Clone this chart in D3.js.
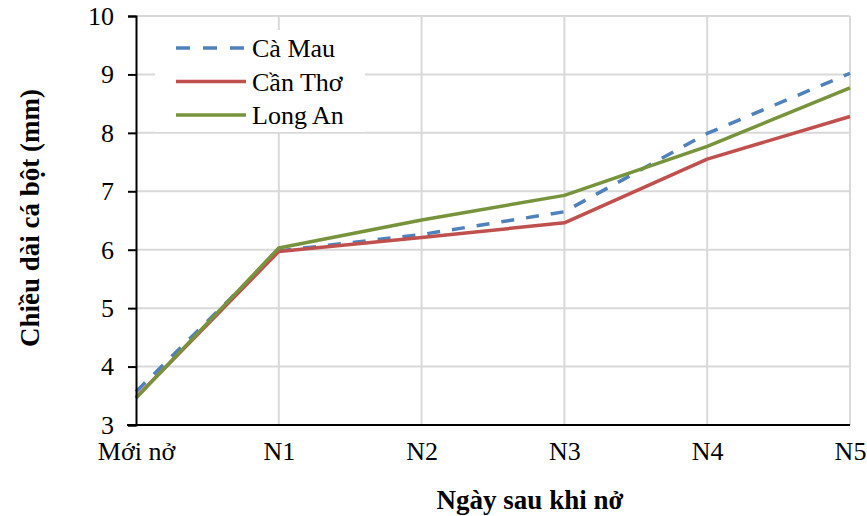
<!DOCTYPE html>
<html>
<head>
<meta charset="utf-8">
<script src="https://cdn.jsdelivr.net/npm/d3@7"></script>
<style>
  html, body { margin: 0; padding: 0; background: #fff; }
  svg { display: block; }
  text { font-family: "Liberation Serif", "Times New Roman", serif; fill: #000; }
</style>
</head>
<body>
<svg id="chart" width="867" height="516"></svg>
<script>
const categories = ["Mới nở", "N1", "N2", "N3", "N4", "N5"];
const caMau   = [3.57, 5.98, 6.26, 6.65, 7.99, 9.02];
const canTho  = [3.47, 5.97, 6.21, 6.46, 7.55, 8.28];
const longAn  = [3.46, 6.03, 6.51, 6.93, 7.77, 8.77];
const seriesNames = ["Cà Mau", "Cần Thơ", "Long An"];
const yTicks = [3, 4, 5, 6, 7, 8, 9, 10];
const xTitle = "Ngày sau khi nở";
const yTitle = "Chiều dài cá bột (mm)";

const series = [
  { name: seriesNames[0], values: caMau,  color: "#4F81BD", dash: "13,12" },
  { name: seriesNames[1], values: canTho, color: "#C0504D", dash: null },
  { name: seriesNames[2], values: longAn, color: "#77933C", dash: null }
];

const svg = d3.select("#chart");
const pLeft = 136, pRight = 850, pTop = 16, pBottom = 425;

const x = d3.scalePoint().domain(categories).range([pLeft, pRight]).padding(0);
const y = d3.scaleLinear().domain([3, 10]).range([pBottom, pTop]);

// gridlines
svg.append("g").selectAll("line").data(yTicks.filter(d => d > 3)).join("line")
  .attr("x1", pLeft).attr("x2", pRight)
  .attr("y1", d => y(d)).attr("y2", d => y(d))
  .attr("stroke", "#d9d9d9").attr("stroke-width", 2);
svg.append("g").selectAll("line").data(categories.slice(1)).join("line")
  .attr("x1", d => x(d)).attr("x2", d => x(d))
  .attr("y1", pTop).attr("y2", pBottom)
  .attr("stroke", "#d9d9d9").attr("stroke-width", 2);

// legend box (white background covering grid)
const legend = svg.append("g");
legend.append("rect").attr("x", 155).attr("y", 30).attr("width", 210).attr("height", 102).attr("fill", "#fff");

// lines
const line = d3.line().x((d, i) => x(categories[i])).y(d => y(d));
series.forEach(s => {
  svg.append("path").datum(s.values)
    .attr("d", line)
    .attr("fill", "none")
    .attr("stroke", s.color)
    .attr("stroke-width", 3.5)
    .attr("stroke-linejoin", "round")
    .attr("stroke-dasharray", s.dash);
});

// axes
const yAxis = d3.axisLeft(y).tickValues(yTicks).tickSize(8).tickPadding(14).tickFormat(d3.format("d"));
const gy = svg.append("g").attr("transform", `translate(${pLeft},0)`).call(yAxis);
gy.select(".domain").attr("stroke", "#000").attr("stroke-width", 2);
gy.selectAll(".tick line").attr("stroke", "#000").attr("stroke-width", 2);
gy.selectAll(".tick text").attr("font-size", 26).attr("fill", "#000");

const xAxis = d3.axisBottom(x).tickSize(0).tickPadding(17);
const gx = svg.append("g").attr("transform", `translate(0,${pBottom})`).call(xAxis);
gx.select(".domain").attr("stroke", "#000").attr("stroke-width", 2).attr("d", `M${pLeft - 9},0H${pRight}`);
gx.selectAll(".tick text").attr("font-size", 26).attr("fill", "#000");

// titles
svg.append("text").attr("x", 530).attr("y", 509).attr("text-anchor", "middle")
  .attr("font-size", 27).attr("font-weight", "bold").text(xTitle);
svg.append("text").attr("transform", "translate(39,218) rotate(-90)").attr("text-anchor", "middle")
  .attr("font-size", 27).attr("font-weight", "bold").text(yTitle);

// legend entries
series.forEach((s, i) => {
  const ly = 48 + i * 33.5;
  legend.append("line").attr("x1", 176).attr("x2", 246).attr("y1", ly).attr("y2", ly)
    .attr("stroke", s.color).attr("stroke-width", 3.5).attr("stroke-dasharray", s.dash ? "14,13" : null);
  legend.append("text").attr("x", 252).attr("y", ly + 9).attr("font-size", 26).text(s.name);
});
</script>
</body>
</html>
